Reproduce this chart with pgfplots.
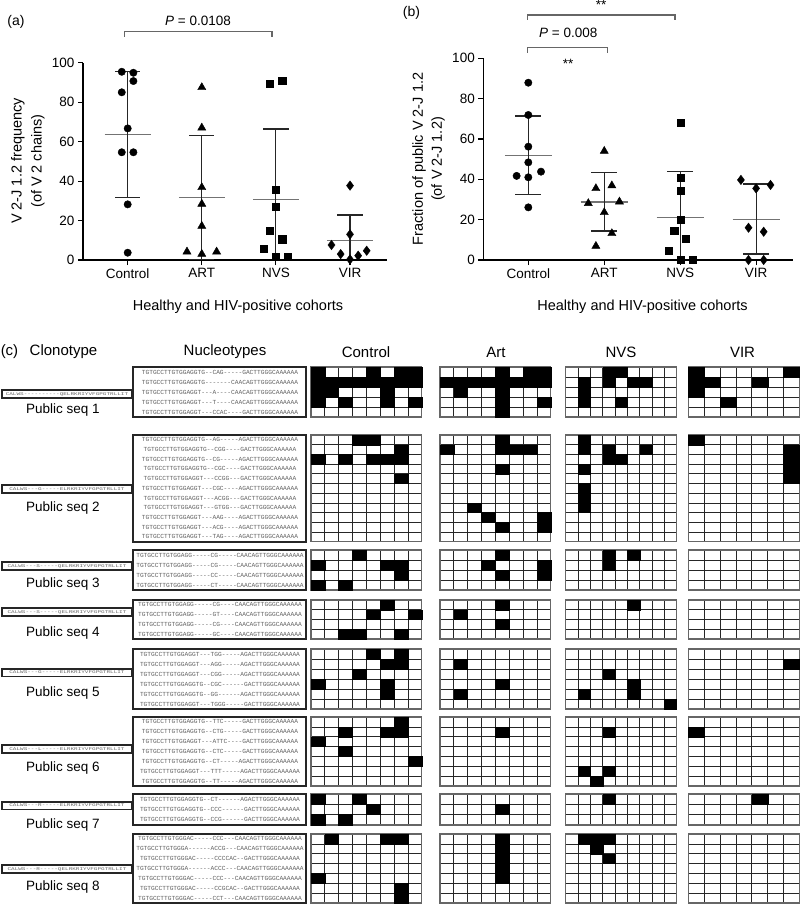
\documentclass[border=0pt]{standalone}
\usepackage{pgfplots}
\pgfplotsset{compat=1.18}
\usepackage{graphicx}
\usepackage{fontspec}
\setmainfont{Liberation Sans}
\setmonofont{Liberation Mono}

% heat-map grid: x, ytop, width, height, ncols, nrows, black cells (col,row)
\newcommand{\hm}[7]{%
  \pgfmathsetmacro\cw{#3/#5}\pgfmathsetmacro\ch{#4/#6}%
  \pgfmathsetmacro\rat{\cw/\ch}\pgfmathsetmacro\ms{\ch/2}%
  \begin{axis}[at={(#1pt,-#2pt)}, anchor=north west, scale only axis,
    width=#3pt, height=#4pt, xmin=0.5, xmax=#5.5, ymin=0.5, ymax=#6.5, y dir=reverse,
    xtick={0.5,1.5,...,#5.5}, ytick={0.5,1.5,...,#6.5}, xticklabels={}, yticklabels={},
    major tick length=0pt, grid=major,
    major grid style={black!85, line width=0.7pt},
    axis line style={black!60, line width=1.2pt}]
    \if\relax\detokenize{#7}\relax\else
    \addplot[only marks, mark=square*, mark size=\ms, color=black,
      mark options={xscale=\rat, fill=black, draw=none}] coordinates {#7};
    \fi
  \end{axis}}
\newcommand{\hmrow}[7]{%
  \hm{311}{#1}{110.7}{#2}{8}{#3}{#4}%
  \hm{440}{#1}{110.7}{#2}{8}{#3}{#5}%
  \hm{565.7}{#1}{111}{#2}{9}{#3}{#6}%
  \hm{688.3}{#1}{111.2}{#2}{7}{#3}{#7}}

% sequence group: top, bottom, nrows, clonotype box y, label y, label, nucleotide lines, clonotype
\newcommand{\seqgroup}[8]{%
  \foreach \s [count=\i] in {#7} {%
    \pgfmathsetmacro\yy{#1+(\i-0.5)*(#2-#1)/#3}%
    \node[font=\ttfamily\fontsize{6.2}{6.5}\selectfont, text=black!62, inner sep=0pt] at (220pt,-\yy pt) {\s};
  }%
  \draw[line width=1.8pt, black!85] (133pt,-#1pt) rectangle (306pt,-#2pt);
  \draw[line width=1.6pt, black!85] (2pt,-#4pt+3.8pt) rectangle (132pt,-#4pt-3.8pt);
  \node[font=\ttfamily\fontsize{6}{6}\selectfont, text=black!60, inner sep=0pt] at (67pt,-#4pt) {\scalebox{1}[0.7]{#8}};
  \node[font=\fontsize{13.5}{14}\selectfont] at (63pt,-#5pt) {#6};
}

\pgfplotsset{
  scat/.style={
    scale only axis, axis x line*=bottom, axis y line*=left,
    xtick={0,1,2,3}, xticklabels={Control,ART,NVS,VIR},
    ymin=0, ymax=100, ytick={0,20,...,100},
    tick align=outside, major tick length=5pt,
    tick style={black, line width=1.1pt},
    axis line style={black, line width=1.2pt},
    clip=false,
    ticklabel style={font=\fontsize{13.5}{14}\selectfont},
    /pgf/number format/assume math mode=true},
  meanl/.style={black!55, line width=1.3pt},
  sdl/.style={black!85, line width=1.1pt},
}

\begin{document}
\begin{tikzpicture}
\path[use as bounding box] (0pt,0pt) rectangle (800pt,-904pt);

% ---------------- panel (a)
\begin{axis}[scat, at={(83pt,-260pt)}, anchor=south west, width=303.7pt, height=197.3pt,
  xmin=-0.603, xmax=3.495]
  \addplot[meanl] coordinates {(-0.31,63.7) (0.31,63.7)};
  \addplot[sdl] coordinates {(0,31.8) (0,95.5)};
  \addplot[sdl] coordinates {(-0.17,95.5) (0.17,95.5)};
  \addplot[sdl] coordinates {(-0.17,31.8) (0.17,31.8)};
  \addplot[meanl] coordinates {(0.69,31.8) (1.31,31.8)};
  \addplot[sdl] coordinates {(1,0.3) (1,63.3)};
  \addplot[sdl] coordinates {(0.83,63.3) (1.17,63.3)};
  \addplot[sdl] coordinates {(0.83,0.3) (1.17,0.3)};
  \addplot[meanl] coordinates {(1.69,30.7) (2.31,30.7)};
  \addplot[sdl] coordinates {(2,0) (2,66.4)};
  \addplot[sdl] coordinates {(1.83,66.4) (2.17,66.4)};
  \addplot[meanl] coordinates {(2.69,9.8) (3.31,9.8)};
  \addplot[sdl] coordinates {(3,0) (3,22.8)};
  \addplot[sdl] coordinates {(2.83,22.8) (3.17,22.8)};
  \addplot[only marks, mark=*, mark size=3.7pt, black] coordinates
    {(-0.08,95.4) (0.077,94.9) (0.077,90.7) (-0.08,85) (0,66.7) (-0.08,54.6) (0.077,54.6) (0,28.2) (0,3.7)};
  \addplot[only marks, mark=triangle*, mark size=4.7pt, black] coordinates
    {(1,87.5) (1,67) (1,36.8) (1,28.4) (1,17.2) (0.8,4.2) (1,3) (1.2,4.2)};
  \addplot[only marks, mark=square*, mark size=3.6pt, black] coordinates
    {(1.92,89.5) (2.085,90.7) (2,35.5) (2,27) (1.92,14.9) (2.085,10.5) (1.84,5.9) (2,1.7) (2.16,1.7)};
  \addplot[only marks, mark=diamond*, mark size=4.7pt, black] coordinates
    {(3,37.7) (3,13) (2.75,7.6) (2.874,3) (3,0.3) (3.11,2.2) (3.225,4.7)};
\end{axis}
\node[font=\fontsize{14}{14}\selectfont] at (16pt,-22pt) {(a)};
\node[rotate=90, align=center, font=\fontsize{14.5}{20}\selectfont] at (28pt,-161pt) {V 2-J 1.2 frequency\\(of V 2 chains)};
\node[font=\fontsize{14.5}{15}\selectfont] at (238pt,-306.7pt) {Healthy and HIV-positive cohorts};
\draw[black!60, line width=1.2pt] (124.7pt,-37pt) -- (124.7pt,-31.7pt) -- (272pt,-31.7pt) -- (272pt,-37pt);
\node[font=\fontsize{13.5}{14}\selectfont] at (198pt,-21pt) {\textit{P} = 0.0108};

% ---------------- panel (b)
\begin{axis}[scat, at={(483.3pt,-260pt)}, anchor=south west, width=310pt, height=201.7pt,
  xmin=-0.593, xmax=3.49]
  \addplot[meanl] coordinates {(-0.31,51.9) (0.31,51.9)};
  \addplot[sdl] coordinates {(0,32.6) (0,71.4)};
  \addplot[sdl] coordinates {(-0.17,71.4) (0.17,71.4)};
  \addplot[sdl] coordinates {(-0.17,32.6) (0.17,32.6)};
  \addplot[meanl] coordinates {(0.69,28.8) (1.31,28.8)};
  \addplot[sdl] coordinates {(1,14.4) (1,43.5)};
  \addplot[sdl] coordinates {(0.83,43.5) (1.17,43.5)};
  \addplot[sdl] coordinates {(0.83,14.4) (1.17,14.4)};
  \addplot[meanl] coordinates {(1.69,21.2) (2.31,21.2)};
  \addplot[sdl] coordinates {(2,0) (2,43.8)};
  \addplot[sdl] coordinates {(1.83,43.8) (2.17,43.8)};
  \addplot[meanl] coordinates {(2.69,20.2) (3.31,20.2)};
  \addplot[sdl] coordinates {(3,3) (3,37.7)};
  \addplot[sdl] coordinates {(2.83,37.7) (3.17,37.7)};
  \addplot[sdl] coordinates {(2.83,3) (3.17,3)};
  \addplot[only marks, mark=*, mark size=3.7pt, black] coordinates
    {(0,87.9) (0,71.9) (0,56.2) (0,48.4) (-0.154,41.7) (0,41) (0.167,43.8) (0,26.1)};
  \addplot[only marks, mark=triangle*, mark size=4.7pt, black] coordinates
    {(1,54) (0.89,35.5) (1.1,36.9) (0.79,28.1) (1,23.6) (1.2,28.9) (1.1,13.2) (0.89,6.9)};
  \addplot[only marks, mark=square*, mark size=3.6pt, black] coordinates
    {(2.01,68.1) (2.01,41) (2.01,34.4) (2.01,19.8) (1.92,14.4) (2.075,10.4) (1.846,4.6) (2.01,0) (2.167,0)};
  \addplot[only marks, mark=diamond*, mark size=4.7pt, black] coordinates
    {(2.8,39.7) (3,35.5) (3.19,37.2) (2.9,16) (3.1,14) (2.9,0) (3.1,0)};
\end{axis}
\node[font=\fontsize{14}{14}\selectfont] at (411.5pt,-13pt) {(b)};
\node[rotate=90, align=center, font=\fontsize{14.5}{19}\selectfont] at (428.5pt,-159pt) {Fraction of public V 2-J 1.2\\(of V 2-J 1.2)};
\node[font=\fontsize{14.5}{15}\selectfont] at (642.5pt,-306.7pt) {Healthy and HIV-positive cohorts};
\draw[black!60, line width=1.2pt] (527.7pt,-20pt) -- (527.7pt,-15pt) -- (675pt,-15pt) -- (675pt,-20pt);
\node[font=\fontsize{13.5}{14}\selectfont, anchor=north, inner sep=0pt] at (601pt,-0.5pt) {**};
\draw[black!60, line width=1.2pt] (527.7pt,-53pt) -- (527.7pt,-47.7pt) -- (607.7pt,-47.7pt) -- (607.7pt,-53pt);
\node[font=\fontsize{13.5}{14}\selectfont] at (568.3pt,-33.3pt) {\textit{P} = 0.008};
\node[font=\fontsize{13.5}{14}\selectfont] at (568pt,-64pt) {**};

% ---------------- panel (c) headers
\node[font=\fontsize{15}{15}\selectfont] at (9.5pt,-352pt) {(c)};
\node[font=\fontsize{15}{15}\selectfont] at (63.5pt,-352pt) {Clonotype};
\node[font=\fontsize{15}{15}\selectfont] at (225pt,-352pt) {Nucleotypes};
\node[font=\fontsize{15}{15}\selectfont] at (366pt,-352.5pt) {Control};
\node[font=\fontsize{15}{15}\selectfont] at (496pt,-352.5pt) {Art};
\node[font=\fontsize{15}{15}\selectfont] at (621pt,-352.5pt) {NVS};
\node[font=\fontsize{15}{15}\selectfont] at (742.5pt,-352.5pt) {VIR};

% ---------------- sequence groups
\seqgroup{367}{417}{5}{394}{410}{Public seq 1}
 {TGTGCCTTGTGGAGGTG--CAG-----GACTTGGGCAAAAAA,
  TGTGCCTTGTGGAGGTG-------CAACAGTTGGGCAAAAAA,
  TGTGCCTTGTGGAGGT---A----CAACAGTTGGGCAAAAAA,
  TGTGCCTTGTGGAGGT---T----CAACAGTTGGGCAAAAAA,
  TGTGCCTTGTGGAGGT---CCAC----GACTTGGGCAAAAAA}
 {CALWS----------QELRKRIYVFGPGTRLLIT}
\seqgroup{435}{541.7}{11}{489}{508}{Public seq 2}
 {TGTGCCTTGTGGAGGTG--AG-----AGACTTGGGCAAAAAA,
  TGTGCCTTGTGGAGGTG--CGG----GACTTGGGCAAAAAA,
  TGTGCCTTGTGGAGGTG--CG-----AGACTTGGGCAAAAAA,
  TGTGCCTTGTGGAGGTG--CGC----GACTTGGGCAAAAAA,
  TGTGCCTTGTGGAGGT---CCGG---GACTTGGGCAAAAAA,
  TGTGCCTTGTGGAGGT---CGC----AGACTTGGGCAAAAAA,
  TGTGCCTTGTGGAGGT---ACGG---GACTTGGGCAAAAAA,
  TGTGCCTTGTGGAGGT---GTGG---GACTTGGGCAAAAAA,
  TGTGCCTTGTGGAGGT---AAG----AGACTTGGGCAAAAAA,
  TGTGCCTTGTGGAGGT---ACG----AGACTTGGGCAAAAAA,
  TGTGCCTTGTGGAGGT---TAG----AGACTTGGGCAAAAAA}
 {CALWS---G-----ELRKRIYVFGPGTRLLIT}
\seqgroup{550}{590}{4}{566}{584}{Public seq 3}
 {TGTGCCTTGTGGAGG-----CG-----CAACAGTTGGGCAAAAAA,
  TGTGCCTTGTGGAGG-----CG-----CAACAGTTGGGCAAAAAA,
  TGTGCCTTGTGGAGG-----CC-----CAACAGTTGGGCAAAAAA,
  TGTGCCTTGTGGAGG-----CT-----CAACAGTTGGGCAAAAAA}
 {CALWS---S-----QELRKRIYVFGPGTRLLIT}
\seqgroup{600}{639}{4}{612}{633}{Public seq 4}
 {TGTGCCTTGTGGAGG-----CG----CAACAGTTGGGCAAAAAA,
  TGTGCCTTGTGGAGG-----GT----CAACAGTTGGGCAAAAAA,
  TGTGCCTTGTGGAGG-----CG----CAACAGTTGGGCAAAAAA,
  TGTGCCTTGTGGAGG-----GC----CAACAGTTGGGCAAAAAA}
 {CALWS---S-----QELRKRIYVFGPGTRLLIT}
\seqgroup{649}{709}{6}{672.5}{693}{Public seq 5}
 {TGTGCCTTGTGGAGGT---TGG-----AGACTTGGGCAAAAAA,
  TGTGCCTTGTGGAGGT---AGG-----AGACTTGGGCAAAAAA,
  TGTGCCTTGTGGAGGT---CGG-----AGACTTGGGCAAAAAA,
  TGTGCCTTGTGGAGGTG--CGC------GACTTGGGCAAAAAA,
  TGTGCCTTGTGGAGGTG--GG------AGACTTGGGCAAAAAA,
  TGTGCCTTGTGGAGGT---TGGG-----GACTTGGGCAAAAAA}
 {CALWS---G-----ELRKRIYVFGPGTRLLIT}
\seqgroup{717}{786}{7}{749}{768}{Public seq 6}
 {TGTGCCTTGTGGAGGTG--TTC-----GACTTGGGCAAAAAA,
  TGTGCCTTGTGGAGGTG--CTG-----GACTTGGGCAAAAAA,
  TGTGCCTTGTGGAGGT---ATTC----GACTTGGGCAAAAAA,
  TGTGCCTTGTGGAGGTG--CTC-----GACTTGGGCAAAAAA,
  TGTGCCTTGTGGAGGTG--CT-----AGACTTGGGCAAAAAA,
  TGTGCCTTGTGGAGGT---TTT-----AGACTTGGGCAAAAAA,
  TGTGCCTTGTGGAGGTG--TT-----AGACTTGGGCAAAAAA}
 {CALWS---L-----ELRKRIYVFGPGTRLLIT}
\seqgroup{794}{825}{3}{805.5}{825}{Public seq 7}
 {TGTGCCTTGTGGAGGTG--CT------AGACTTGGGCAAAAAA,
  TGTGCCTTGTGGAGGTG--CCC------GACTTGGGCAAAAAA,
  TGTGCCTTGTGGAGGTG--CCG------GACTTGGGCAAAAAA}
 {CALWS---R-----ELRKRIYVFGPGTRLLIT}
\seqgroup{834}{903}{7}{869}{886.7}{Public seq 8}
 {TGTGCCTTGTGGGAC-----CCC---CAACAGTTGGGCAAAAAA,
  TGTGCCTTGTGGGA------ACCG---CAACAGTTGGGCAAAAAA,
  TGTGCCTTGTGGGAC-----CCCCAC--GACTTGGGCAAAAAA,
  TGTGCCTTGTGGGA------ACCC---CAACAGTTGGGCAAAAAA,
  TGTGCCTTGTGGGAC-----CCC---CAACAGTTGGGCAAAAAA,
  TGTGCCTTGTGGGAC-----CCGCAC--GACTTGGGCAAAAAA,
  TGTGCCTTGTGGGAC-----CCT---CAACAGTTGGGCAAAAAA}
 {CALWS---R-----QELRKRIYVFGPGTRLLIT}

% ---------------- heat maps (black cell at (column,row))
\hmrow{367}{50}{5}
 {(1,1)(5,1)(7,1)(8,1)(1,2)(2,2)(3,2)(4,2)(5,2)(6,2)(7,2)(8,2)(1,3)(2,3)(6,3)(1,4)(3,4)(6,4)(8,4)}
 {(5,1)(7,1)(8,1)(1,2)(2,2)(3,2)(4,2)(5,2)(6,2)(7,2)(8,2)(2,3)(5,3)(5,4)(8,4)(5,5)}
 {(4,1)(5,1)(2,2)(4,2)(6,2)(7,2)(2,3)(2,4)(5,4)}
 {(1,1)(7,1)(1,2)(2,2)(5,2)(1,3)(3,4)}
\hmrow{435}{106.7}{11}
 {(4,1)(5,1)(7,2)(1,3)(3,3)(5,3)(6,3)(7,3)(7,5)}
 {(5,1)(1,2)(5,2)(6,2)(7,2)(5,4)(3,8)(4,9)(8,9)(5,10)(8,10)}
 {(2,1)(2,2)(4,2)(7,2)(4,3)(5,3)(2,4)(2,6)(2,7)(2,8)}
 {(1,1)(7,2)(7,3)(7,4)(7,5)}
\hmrow{550}{40}{4}
 {(4,1)(1,2)(6,2)(7,2)(7,3)(1,4)(3,4)}
 {(5,1)(4,2)(8,2)(5,3)(8,3)}
 {(4,1)(6,1)(4,2)}
 {}
\hmrow{600}{39}{4}
 {(6,1)(5,2)(8,2)(3,4)(4,4)(7,4)}
 {(5,1)(2,2)(5,3)}
 {(6,1)}
 {}
\hmrow{649}{60}{6}
 {(5,1)(7,1)(6,2)(7,2)(4,3)(1,4)(6,4)(6,5)}
 {(2,2)(5,4)(2,5)}
 {(4,3)(6,4)(2,5)(6,5)(9,6)}
 {(7,2)}
\hmrow{717}{69}{7}
 {(7,1)(3,2)(6,2)(7,2)(1,3)(3,4)(8,5)}
 {(5,2)}
 {(4,2)(2,6)(4,6)(3,7)}
 {(1,2)}
\hmrow{794}{31}{3}
 {(1,1)(4,1)(5,2)(1,3)(3,3)}
 {(5,2)}
 {(4,1)}
 {(5,1)}
\hmrow{834}{69}{7}
 {(2,1)(6,1)(7,1)(1,5)(7,6)(7,7)}
 {(5,1)(5,2)(5,3)(5,4)(5,5)}
 {(2,1)(3,1)(4,1)(3,2)(4,3)}
 {}
\end{tikzpicture}
\end{document}
